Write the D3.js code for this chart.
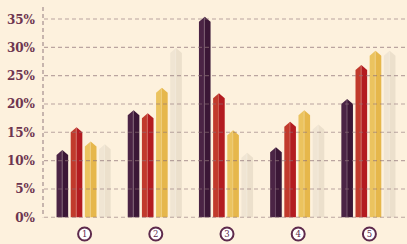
<!DOCTYPE html>
<html><head><meta charset="utf-8">
<script src="https://cdn.jsdelivr.net/npm/d3@7"></script>
<style>
html,body{margin:0;padding:0;background:#fdf1dd;}
svg{display:block;}
</style></head>
<body>
<script>
const groups = ["1","2","3","4","5"];
const seriesNames = ["A","B","C","D"];
const seriesA = [11, 18, 34.5, 11.5, 20];
const seriesB = [15, 17.5, 21, 16, 26];
const seriesC = [12.5, 22, 14.5, 18, 28.5];
const seriesD = [12, 29, 10.5, 15.5, 28.5];
const tickValues = [0,5,10,15,20,25,30,35];
const tickLabels = ["0%","5%","10%","15%","20%","25%","30%","35%"];
const colorsLeft  = ["#4b2445","#c13a2c","#ebc35f","#f0e5d3"];
const colorsRight = ["#3b1736","#b31b20","#e6b74b","#ece0cc"];

const allSeries = [seriesA, seriesB, seriesC, seriesD];
const W = 407, H = 244;
const svg = d3.select("body").append("svg").attr("width", W).attr("height", H);
svg.append("rect").attr("width", W).attr("height", H).attr("fill", "#fdf1dd");

const y = d3.scaleLinear().domain([0,35]).range([217.3, 19]);
const x0 = d3.scaleBand().domain(groups).range([48, 404]).paddingInner(0.24).paddingOuter(0.12);
const x1 = d3.scaleBand().domain(seriesNames).range([0, x0.bandwidth()]).paddingInner(0.18).paddingOuter(0);

// vertical axis dashed line
svg.append("line").attr("x1", 43).attr("x2", 43).attr("y1", 7).attr("y2", y(0))
  .attr("stroke", "#9c8487").attr("stroke-width", 1.1).attr("stroke-dasharray", "4,3");

// bars
const cap = 5;
groups.forEach((g, gi) => {
  seriesNames.forEach((s, si) => {
    const v = allSeries[si][gi];
    const bx = x0(g) + x1(s);
    const bw = x1.bandwidth();
    const top = y(v);
    const bot = y(0);
    const mid = bx + bw / 2;
    const gg = svg.append("g");
    gg.append("path")
      .attr("d", `M${bx},${bot}L${bx},${top}L${mid},${top - cap}L${mid},${bot}Z`)
      .attr("fill", colorsLeft[si]);
    gg.append("path")
      .attr("d", `M${mid},${bot}L${mid},${top - cap}L${bx + bw},${top}L${bx + bw},${bot}Z`)
      .attr("fill", colorsRight[si]);
    gg.append("line").attr("x1", mid - 0.5).attr("x2", mid - 0.5)
      .attr("y1", top - cap + 1).attr("y2", bot)
      .attr("stroke", "#ffffff").attr("stroke-opacity", 0.15).attr("stroke-width", 1);
  });
});

// grid lines
svg.append("g").selectAll("line").data(tickValues).join("line")
  .attr("x1", 44).attr("x2", W)
  .attr("y1", d => y(d)).attr("y2", d => y(d))
  .attr("stroke", "#8f7378").attr("stroke-opacity", 0.6).attr("stroke-width", 1.1)
  .attr("stroke-dasharray", "4,3");

// tick labels
svg.append("g").selectAll("text").data(tickValues).join("text")
  .attr("x", 35).attr("y", d => y(d) + 4.5)
  .attr("text-anchor", "end")
  .attr("font-family", "DejaVu Serif, serif")
  .attr("font-weight", "bold")
  .attr("font-size", 12)
  .attr("fill", "#6e3550")
  .text((d, i) => tickLabels[i]);

// group labels
const lab = svg.append("g").selectAll("g").data(groups).join("g")
  .attr("transform", d => `translate(${x0(d) + x0.bandwidth() / 2 + 1},234)`);
lab.append("circle").attr("r", 6.5).attr("fill", "#ffffff")
  .attr("stroke", "#5e2a4c").attr("stroke-width", 2);
lab.append("text").attr("text-anchor", "middle").attr("y", 3)
  .attr("font-family", "DejaVu Serif, serif").attr("font-size", 8.5)
  .attr("fill", "#5e2a4c").text(d => d);
</script>
</body></html>
